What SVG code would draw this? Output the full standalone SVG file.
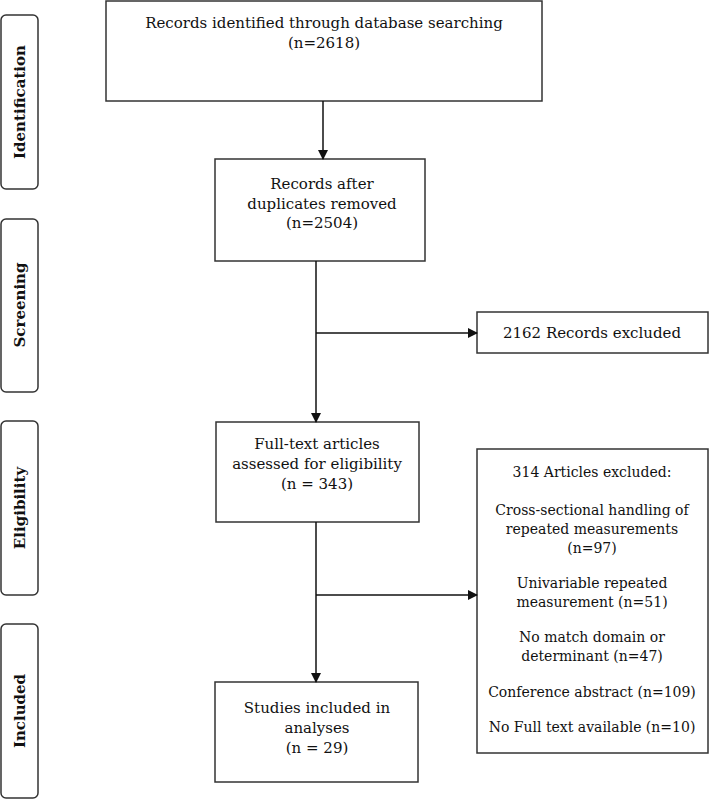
<svg xmlns="http://www.w3.org/2000/svg" width="709" height="799" viewBox="0 0 709 799">
<style>
.box{fill:#fff;stroke:#333;stroke-width:1.5}
.side{fill:#fff;stroke:#333;stroke-width:1.5}
.t{font-family:"DejaVu Serif","Liberation Serif",serif;font-size:15px;fill:#111;text-anchor:middle}
.t2{font-family:"DejaVu Serif","Liberation Serif",serif;font-size:14px;fill:#111;text-anchor:middle}
.s{font-family:"DejaVu Serif","Liberation Serif",serif;font-size:15px;font-weight:bold;fill:#111;text-anchor:middle}
.c{fill:none;stroke:#111;stroke-width:1.5}
</style>
<defs>
<marker id="a" markerWidth="10" markerHeight="10" refX="9" refY="5" orient="auto" markerUnits="userSpaceOnUse">
<path d="M0,0 L10,5 L0,10 Z" fill="#111"/>
</marker>
</defs>
<g id="side-identification"><rect class="side" x="1" y="15" width="37" height="174" rx="5"/><text class="s" transform="translate(25,102) rotate(-90)">Identification</text></g>
<g id="side-screening"><rect class="side" x="1" y="219" width="37" height="173" rx="5"/><text class="s" transform="translate(25,305) rotate(-90)">Screening</text></g>
<g id="side-eligibility"><rect class="side" x="1" y="421" width="37" height="174" rx="5"/><text class="s" transform="translate(25,508) rotate(-90)">Eligibility</text></g>
<g id="side-included"><rect class="side" x="1" y="624" width="37" height="174" rx="5"/><text class="s" transform="translate(25,711) rotate(-90)">Included</text></g>
<g id="n1"><rect class="box" x="106" y="1" width="436" height="100"/><text class="t" x="324" y="28">Records identified through database searching</text><text class="t" x="324" y="48">(n=2618)</text></g>
<g id="n2"><rect class="box" x="215" y="159" width="210" height="102"/><text class="t" x="322" y="189">Records after</text><text class="t" x="322" y="209">duplicates removed</text><text class="t" x="322" y="228">(n=2504)</text></g>
<g id="n3"><rect class="box" x="477" y="312" width="231" height="41"/><text class="t" x="592" y="338">2162 Records excluded</text></g>
<g id="n4"><rect class="box" x="216" y="422" width="203" height="100"/><text class="t" x="317" y="449">Full-text articles</text><text class="t" x="317" y="469">assessed for eligibility</text><text class="t" x="317" y="489">(n = 343)</text></g>
<g id="n5"><rect class="box" x="477" y="449" width="231" height="304"/>
<text class="t2" x="592" y="477">314 Articles excluded:</text>
<text class="t2" x="592" y="515">Cross-sectional handling of</text>
<text class="t2" x="592" y="534">repeated measurements</text>
<text class="t2" x="592" y="553">(n=97)</text>
<text class="t2" x="592" y="588">Univariable repeated</text>
<text class="t2" x="592" y="607">measurement (n=51)</text>
<text class="t2" x="592" y="642">No match domain or</text>
<text class="t2" x="592" y="661">determinant (n=47)</text>
<text class="t2" x="592" y="697">Conference abstract (n=109)</text>
<text class="t2" x="592" y="732">No Full text available (n=10)</text></g>
<g id="n6"><rect class="box" x="215" y="682" width="203" height="100"/><text class="t" x="317" y="713">Studies included in</text><text class="t" x="317" y="733">analyses</text><text class="t" x="317" y="753">(n = 29)</text></g>
<g id="connectors">
<line class="c" x1="323" y1="101" x2="323" y2="159" marker-end="url(#a)"/>
<line class="c" x1="316" y1="261" x2="316" y2="422" marker-end="url(#a)"/>
<line class="c" x1="316" y1="333" x2="477" y2="333" marker-end="url(#a)"/>
<line class="c" x1="316" y1="522" x2="316" y2="682" marker-end="url(#a)"/>
<line class="c" x1="316" y1="595" x2="477" y2="595" marker-end="url(#a)"/>
</g>
</svg>
